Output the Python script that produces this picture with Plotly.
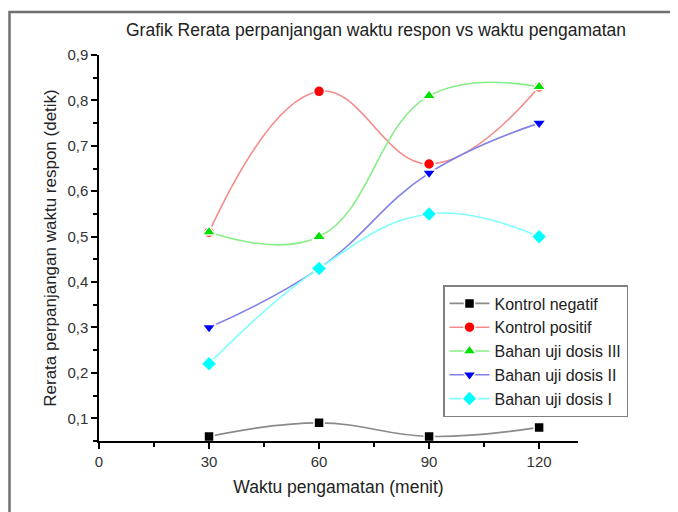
import plotly.graph_objects as go

x_values = [30, 60, 90, 120]
series_names = ["Kontrol negatif", "Kontrol positif", "Bahan uji dosis III",
                "Bahan uji dosis II", "Bahan uji dosis I"]
kontrol_negatif = [0.06, 0.09, 0.06, 0.08]
kontrol_positif = [0.51, 0.82, 0.66, 0.83]
dosis_iii = [0.51, 0.50, 0.81, 0.83]
dosis_ii = [0.30, 0.43, 0.64, 0.75]
dosis_i = [0.22, 0.43, 0.55, 0.50]
x_tick_values = [0, 30, 60, 90, 120]

series_values = [kontrol_negatif, kontrol_positif, dosis_iii, dosis_ii, dosis_i]
line_colors = ["#8a8a8a", "#f58a8a", "#86ee86", "#8080e6", "#80ffff"]
marker_colors = ["#000000", "#ff0000", "#00e000", "#0000ff", "#00ffff"]
symbols = ["square", "circle", "triangle-up", "triangle-down", "diamond"]
sizes = [10, 11, 12, 12, 12]

FONT = "Arial, Liberation Sans, sans-serif"

fig = go.Figure()
for name, vals, lc, mc, sym, sz in zip(series_names, series_values, line_colors,
                                       marker_colors, symbols, sizes):
    fig.add_trace(go.Scatter(
        x=x_values, y=vals, name=name, mode="lines+markers",
        line=dict(color=lc, width=1.6, shape="spline", smoothing=1.2),
        marker=dict(color=mc, symbol=sym, size=sz, line=dict(color="white", width=1.5)),
    ))

# page has an 8px body margin: figure px = screen px - 8
OFF = 8
W, H = 678 - OFF, 512 - OFF
L, T = 99 - OFF, 55 - OFF
R = W - (578 - OFF)
B = H - (441 - OFF)
pw, ph = W - L - R, H - T - B

def px_x(p):
    return (p - OFF - L) / pw

def px_y(p):
    return (H - B - (p - OFF)) / ph

fig.update_layout(
    width=W, height=H,
    margin=dict(l=L, r=R, t=T, b=B),
    paper_bgcolor="white", plot_bgcolor="white",
    separators=",.",
    font=dict(family=FONT, color="#222222", size=15),
    showlegend=True,
    legend=dict(x=px_x(443), y=px_y(285), xanchor="left", yanchor="top",
                bordercolor="#808080", borderwidth=1.5, bgcolor="white",
                font=dict(family=FONT, size=16, color="#222222"),
                tracegroupgap=0, itemwidth=40),
    xaxis=dict(range=[0, 130.6], tickmode="array", tickvals=x_tick_values,
               showgrid=False, zeroline=False, showline=True, linecolor="black",
               linewidth=1.5, ticks="outside", ticklen=6, tickwidth=1.5, tickcolor="black",
               minor=dict(dtick=15, tick0=15, ticks="outside", ticklen=4, tickwidth=1.5,
                          tickcolor="black"),
               tickfont=dict(size=15, color="#333333"),
               title=dict(text="Waktu pengamatan (menit)", font=dict(size=17.5, color="#222222"),
                          standoff=12)),
    yaxis=dict(range=[0.05, 0.9], tick0=0.1, dtick=0.1, tickformat=".1f",
               showgrid=False, zeroline=False, showline=True, linecolor="black",
               linewidth=1.5, ticks="outside", ticklen=6, tickwidth=1.5, tickcolor="black",
               minor=dict(dtick=0.05, tick0=0.05, ticks="outside", ticklen=4, tickwidth=1.5,
                          tickcolor="black"),
               tickfont=dict(size=15, color="#333333"),
               title=dict(text="Rerata perpanjangan waktu respon (detik)",
                          font=dict(size=17, color="#222222"), standoff=6)),
)

fig.add_annotation(text="Grafik Rerata perpanjangan waktu respon vs waktu pengamatan",
                   xref="paper", yref="paper", x=px_x(376), y=px_y(30),
                   xanchor="center", yanchor="middle", showarrow=False,
                   font=dict(family=FONT, size=17.5, color="#222222"))

fig.add_shape(type="rect", xref="paper", yref="paper",
              x0=px_x(9.5), x1=px_x(720), y0=px_y(560), y1=px_y(12),
              line=dict(color="#707070", width=2.5), layer="below")

fig.write_html("out.html")
